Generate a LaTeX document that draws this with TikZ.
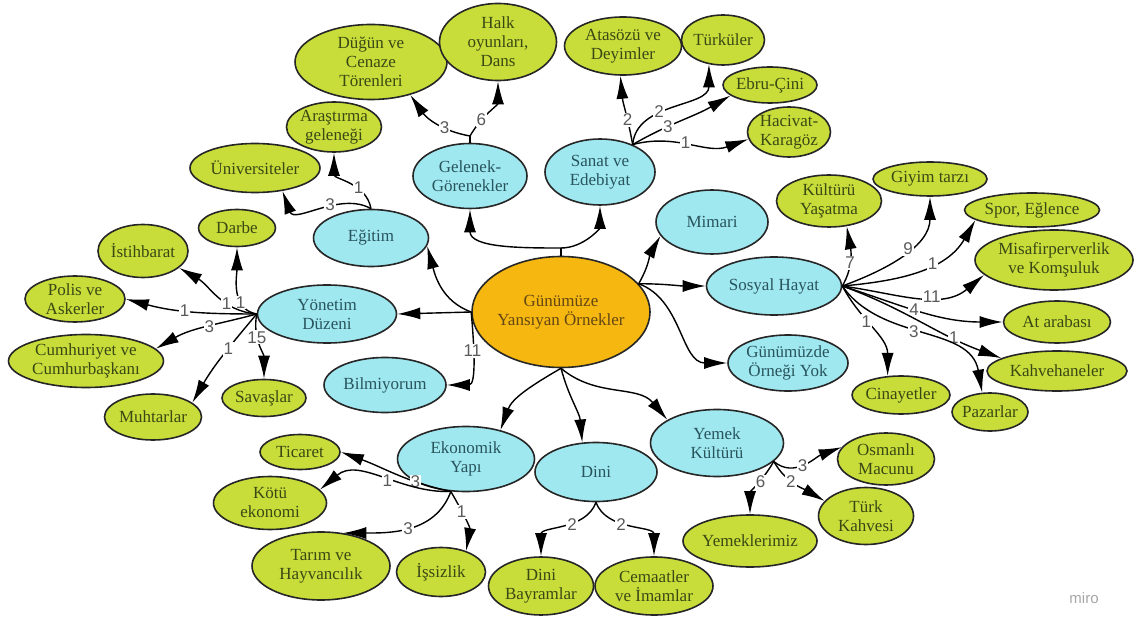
\documentclass[tikz,border=0pt]{standalone}
\usepackage{fontspec}
\setmainfont{Liberation Serif}
\newfontfamily\numfont{Liberation Sans}
\usetikzlibrary{shapes.geometric,arrows.meta}

\definecolor{topicblue}{RGB}{160,232,240}
\definecolor{leafgreen}{RGB}{200,221,58}
\definecolor{rootorange}{RGB}{246,184,16}
\definecolor{inkblue}{RGB}{40,84,92}
\definecolor{inkgreen}{RGB}{58,72,20}
\definecolor{inkroot}{RGB}{100,70,20}
\definecolor{countgray}{RGB}{90,90,90}

\begin{document}
\begin{tikzpicture}[x=1pt, y=-1pt,
  bubble/.style={ellipse, draw=black!85, line width=1.6pt, inner sep=-2pt, align=center,
    font=\fontsize{17}{19}\selectfont},
  sz/.style 2 args={minimum width=#1pt, minimum height=#2pt},
  root/.style={bubble, fill=rootorange, text=inkroot},
  topic/.style={bubble, fill=topicblue, text=inkblue},
  leaf/.style={bubble, fill=leafgreen, text=inkgreen},
  link/.style={line width=1.4pt, -{Latex[length=23pt,width=12pt]}},
  cnt/.style={fill=white, inner sep=1pt, text=countgray, font=\numfont\fontsize{17}{17}\selectfont}]

  \useasboundingbox (0,0) rectangle (1134,617);

  \node[root, sz={178}{111}] (c) at (561,312) {Günümüze\\Yansıyan Örnekler};

  \node[topic, sz={114}{65}] (gel) at (470,176) {Gelenek-\\Görenekler};
  \node[topic, sz={110}{66}] (san) at (600,172) {Sanat ve\\Edebiyat};
  \node[topic, sz={115}{57}] (egi) at (371,238) {Eğitim};
  \node[topic, sz={112}{64}] (mim) at (712,222) {Mimari};
  \node[topic, sz={135}{58}] (sos) at (774,286) {Sosyal Hayat};
  \node[topic, sz={139}{58}] (yon) at (327,314) {Yönetim\\Düzeni};
  \node[topic, sz={122}{55}] (bil) at (385,385) {Bilmiyorum};
  \node[topic, sz={120}{56}] (gun) at (788,363) {Günümüzde\\Örneği Yok};
  \node[topic, sz={137}{65}] (eko) at (466,459) {Ekonomik\\Yapı};
  \node[topic, sz={122}{59}] (din) at (596,472) {Dini};
  \node[topic, sz={133}{67}] (yem) at (717,443) {Yemek\\Kültürü};

  \node[leaf, sz={152}{75}] (dug) at (371,62) {Düğün ve\\Cenaze\\Törenleri};
  \node[leaf, sz={117}{77}] (halk) at (498,42) {Halk\\oyunları,\\Dans};
  \node[leaf, sz={117}{58}] (ata) at (623,46) {Atasözü ve\\Deyimler};
  \node[leaf, sz={83}{50}] (tur) at (723,40) {Türküler};
  \node[leaf, sz={94}{36}] (ebru) at (770,85) {Ebru-Çini};
  \node[leaf, sz={83}{50}] (haci) at (789,132) {Hacivat-\\Karagöz};
  \node[leaf, sz={95}{50}] (aras) at (334,127) {Araştırma\\geleneği};
  \node[leaf, sz={130}{49}] (uni) at (255,168) {Üniversiteler};
  \node[leaf, sz={77}{37}] (darbe) at (237,228) {Darbe};
  \node[leaf, sz={90}{53}] (ist) at (143,251) {İstihbarat};
  \node[leaf, sz={100}{46}] (pol) at (75,299) {Polis ve\\Askerler};
  \node[leaf, sz={155}{53}] (cum) at (86,361) {Cumhuriyet ve\\Cumhurbaşkanı};
  \node[leaf, sz={97}{46}] (muh) at (153,417) {Muhtarlar};
  \node[leaf, sz={84}{37}] (sav) at (264,398) {Savaşlar};
  \node[leaf, sz={105}{52}] (kul) at (829,201) {Kültürü\\Yaşatma};
  \node[leaf, sz={114}{34}] (giy) at (930,179) {Giyim tarzı};
  \node[leaf, sz={135}{34}] (spor) at (1032,210) {Spor, Eğlence};
  \node[leaf, sz={158}{60}] (misa) at (1054,260) {Misafirperverlik\\ve Komşuluk};
  \node[leaf, sz={107}{42}] (atar) at (1057,322) {At arabası};
  \node[leaf, sz={140}{40}] (kahve) at (1057,371) {Kahvehaneler};
  \node[leaf, sz={98}{38}] (cin) at (901,395) {Cinayetler};
  \node[leaf, sz={76}{38}] (paz) at (990,412) {Pazarlar};
  \node[leaf, sz={80}{35}] (tic) at (300,452) {Ticaret};
  \node[leaf, sz={113}{53}] (kotu) at (270,503) {Kötü\\ekonomi};
  \node[leaf, sz={138}{68}] (tarim) at (321,566) {Tarım ve\\Hayvancılık};
  \node[leaf, sz={89}{49}] (issiz) at (441,572) {İşsizlik};
  \node[leaf, sz={105}{58}] (bay) at (541,586) {Dini\\Bayramlar};
  \node[leaf, sz={118}{58}] (cem) at (654,586) {Cemaatler\\ve İmamlar};
  \node[leaf, sz={97}{52}] (osm) at (886,459) {Osmanlı\\Macunu};
  \node[leaf, sz={95}{57}] (tkah) at (866,516) {Türk\\Kahvesi};
  \node[leaf, sz={134}{52}] (yemk) at (750,541) {Yemeklerimiz};

  \node[text=black!35, font=\numfont\fontsize{15}{15}\selectfont] (miro) at (1084,598) {miro};

  \coordinate (jt) at (561,248);
  \draw[line width=1.4pt] (c.north) -- (jt);
  \draw[link] (jt) to[out=180,in=-90] (gel.south);
  \draw[link] (jt) to[out=0,in=-90] (san.south);

  \draw[link] (c.west) -- (yon.east);
  \draw[link] (c.west) to[out=160,in=-75] (egi.-8);
  \draw[link] (c.west) to[out=-85,in=0] node[cnt,pos=.4]{11} (bil.east);

  \draw[link] (c.20) to[out=60,in=-120] (mim.195);
  \draw[link] (c.20) to[out=0,in=180] (sos.west);
  \draw[link] (c.20) to[out=-20,in=180] (gun.west);

  \draw[link] (c.south) to[out=-150,in=70] (eko.40);
  \draw[link] (c.south) to[out=-75,in=95] (din.115);
  \draw[link] (c.south) to[out=-40,in=130] (yem.155);

  \coordinate (jg) at (470,136);
  \draw[line width=1.4pt] (gel.north) -- (jg);
  \draw[link] (jg) to[out=170,in=-55] node[cnt,pos=.35]{3} (dug.-40);
  \draw[link] (jg) to[out=60,in=-90] node[cnt,pos=.3]{6} (halk.south);

  \draw[link] (san.40) to[out=100,in=-85] node[cnt,pos=.35]{2} (ata.-95);
  \draw[link] (san.40) to[out=85,in=-90] node[cnt,pos=.38]{2} (tur.-120);
  \draw[link] (san.40) to[out=30,in=-150] node[cnt,pos=.35]{3} (ebru.195);
  \draw[link] (san.40) to[out=15,in=200] node[cnt,pos=.45]{1} (haci.190);

  \draw[link] (egi.north) to[out=100,in=-90] node[cnt,pos=.35]{1} (aras.south);
  \draw[link] (egi.north) to[out=150,in=-70] node[cnt,pos=.4]{3} (uni.-40);

  \draw[link] (yon.west) to[out=170,in=-90] node[cnt,pos=.3]{1} (darbe.south);
  \draw[link] (yon.west) to[out=175,in=-30] node[cnt,pos=.35]{1} (ist.-25);
  \draw[link] (yon.west) to[out=180,in=-15] node[cnt,pos=.55]{1} (pol.east);
  \draw[link] (yon.west) to[out=195,in=30] node[cnt,pos=.45]{3} (cum.10);
  \draw[link] (yon.west) to[out=230,in=60] node[cnt,pos=.4]{1} (muh.20);
  \draw[link] (yon.west) to[out=-100,in=90] node[cnt,pos=.35]{15} (sav.north);

  \draw[link] (sos.east) to[out=60,in=-80] node[cnt,pos=.4]{7} (kul.-55);
  \draw[link] (sos.east) to[out=20,in=-90] node[cnt,pos=.55]{9} (giy.south);
  \draw[link] (sos.east) to[out=5,in=-120] node[cnt,pos=.6]{1} (spor.190);
  \draw[link] (sos.east) to[out=-8,in=-140] node[cnt,pos=.6]{11} (misa.192);
  \draw[link] (sos.east) to[out=-18,in=180] node[cnt,pos=.45]{4} (atar.west);
  \draw[link] (sos.east) to[out=-20,in=160] node[cnt,pos=.72]{1} (kahve.167);
  \draw[link] (sos.east) to[out=-55,in=100] node[cnt,pos=.45]{3} (paz.112);
  \draw[link] (sos.east) to[out=-62,in=90] node[cnt,pos=.4]{1} (cin.125);

  \draw[link] (eko.-115) to[out=168,in=-20] node[cnt,pos=.3]{3} (tic.east);
  \draw[link] (eko.-115) to[out=182,in=40] node[cnt,pos=.45]{1} (kotu.15);
  \draw[link] (eko.-115) to[out=-110,in=0] node[cnt,pos=.5]{3} (tarim.56);
  \draw[link] (eko.-115) to[out=-60,in=80] node[cnt,pos=.35]{1} (issiz.40);

  \draw[link] (din.south) to[out=-110,in=90] node[cnt,pos=.4]{2} (bay.north);
  \draw[link] (din.south) to[out=-70,in=90] node[cnt,pos=.4]{2} (cem.north);

  \draw[link] (yem.-18) to[out=-40,in=200] node[cnt,pos=.45]{3} (osm.165);
  \draw[link] (yem.-18) to[out=-60,in=150] node[cnt,pos=.4]{2} (tkah.160);
  \draw[link] (yem.-18) to[out=-120,in=90] node[cnt,pos=.4]{6} (yemk.north);

\end{tikzpicture}
\end{document}
